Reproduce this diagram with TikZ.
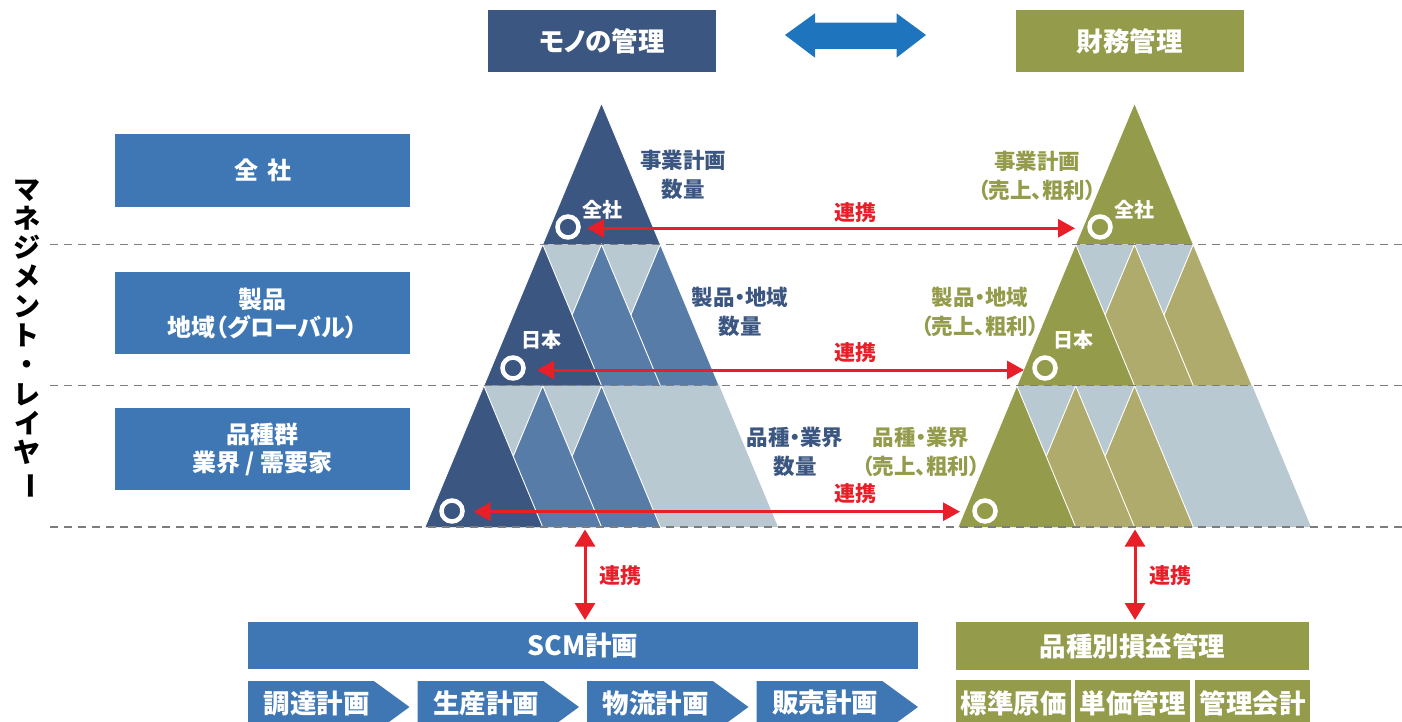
\documentclass[tikz,border=0pt]{standalone}
\usepackage{fontspec}
\usetikzlibrary{arrows.meta}
\newfontfamily\jp{Noto Sans CJK JP}[CharacterWidth=AlternateProportional]
\definecolor{navy}{RGB}{59,86,128}
\definecolor{midblue}{RGB}{88,124,168}
\definecolor{palegray}{RGB}{184,201,210}
\definecolor{boxblue}{RGB}{63,118,180}
\definecolor{olive}{RGB}{148,155,74}
\definecolor{liteolive}{RGB}{175,171,108}
\definecolor{redarr}{RGB}{232,30,40}
\definecolor{dblue}{RGB}{30,117,189}
\definecolor{dashgray}{RGB}{125,125,125}
\newcommand\fsz[2]{\fontsize{#1}{#2}\selectfont}
% mountain: apex x, apex y, colour
\newcommand\mtn[3]{%
  \fill[#3] (#1,#2) -- ++(-58.83,141.33) -- ++(117.67,0) -- cycle;
  \draw[mtnedge] (#1,#2) ++(-58.83,141.33) -- (#1,#2) -- ++(58.83,141.33);}
\newcommand\pyramid[2]{%
  \mtn{601.5}{103}{#1}
  \fill[palegray] (542.67,244.33) -- (660.33,244.33) -- (719.17,385.67) -- (483.83,385.67) -- cycle;
  \mtn{660.33}{244.33}{#2}
  \mtn{601.5}{244.33}{#2}
  \mtn{542.67}{244.33}{#1}
  \fill[palegray] (483.83,385.67) -- (719.17,385.67) -- (778,527) -- (425,527) -- cycle;
  \mtn{601.5}{385.67}{#2}
  \mtn{542.67}{385.67}{#2}
  \mtn{483.83}{385.67}{#1}}
\newcommand\chev[3]{%
  \fill[boxblue] (#1,681) -- ++(125.8,0) -- ++(35.7,26) -- ++(-35.7,26) -- ++(-125.8,0) -- cycle;
  \node[chevtxt] (#2) at ({#1+68.5},703) {#3};}
\begin{document}
\begin{tikzpicture}[x=1pt,y=-1pt,
  mtnedge/.style={draw=white,line width=0.9pt},
  hdr/.style={minimum width=228pt,minimum height=62pt,inner sep=0pt,text=white,font=\jp\bfseries\fsz{26.5}{30}},
  lbox/.style={fill=boxblue,minimum width=295pt,inner sep=0pt,text=white,align=center,font=\jp\bfseries\fsz{24}{28}},
  inlbl/.style={text=white,font=\jp\bfseries\fsz{20}{22},inner sep=0pt},
  navylbl/.style={text=navy,align=center,font=\jp\bfseries\fsz{21.5}{29}},
  olivelbl/.style={text=olive,align=center,font=\jp\bfseries\fsz{21.5}{29}},
  ring/.style={circle,draw=white,line width=4.5pt,minimum size=21pt,inner sep=0pt},
  redarrow/.style={draw=redarr,line width=3pt,{Triangle[length=17pt,width=18pt]}-{Triangle[length=17pt,width=18pt]}},
  vredarrow/.style={draw=redarr,line width=3pt,{Triangle[length=17pt,width=20pt]}-{Triangle[length=17pt,width=20pt]}},
  rlbl/.style={text=redarr,font=\jp\bfseries\fsz{21}{24},inner sep=0pt},
  dashline/.style={draw=dashgray,line width=1.3pt,dash pattern=on 8pt off 6pt},
  chevtxt/.style={text=white,font=\jp\bfseries\fsz{26.5}{30},inner sep=0pt},
  bar/.style={minimum height=47.5pt,inner sep=0pt,text=white,font=\jp\bfseries\fsz{26.5}{30}},
  obox/.style={fill=olive,minimum width=115pt,minimum height=45pt,inner sep=0pt}
]
\useasboundingbox (0,0) rectangle (1402,722);
\clip (0,0) rectangle (1402,722);

% headers
\node[hdr,fill=navy] (mono) at (602,41) {モノの管理};
\node[hdr,fill=olive] (zaimu) at (1129.5,41) {財務管理};
\fill[dblue] (785,35) -- (815,13.3) -- (815,22.7) -- (896.5,22.7) -- (896.5,13.3) -- (926,35)
  -- (896.5,57.7) -- (896.5,49) -- (815,49) -- (815,57.7) -- cycle;

% vertical title
\node[font=\jp\bfseries\fsz{27}{29.3},align=center,inner sep=0pt] (vt) at (27,339)
  {マ\\ネ\\ジ\\メ\\ン\\ト\\・\\レ\\イ\\ヤ\\\rotatebox[origin=c]{-90}{ー}};

% left boxes
\node[lbox,minimum height=72.4pt] (b1) at (262.5,170.5) {全\hspace{9pt}社};
\node[lbox,minimum height=82.6pt] (b2) at (262.5,313) {製品\\地域（グローバル）};
\node[lbox,minimum height=81.7pt] (b3) at (262.5,449) {品種群\\業界 / 需要家};

% pyramids
\pyramid{navy}{midblue}
\begin{scope}[xshift=533pt]
\pyramid{olive}{liteolive}
\end{scope}

% dashed layer lines
\draw[dashline] (50,244.3) -- (1402,244.3);
\draw[dashline] (50,385.7) -- (1402,385.7);
\draw[dashline] (50,527) -- (1402,527);

% labels inside pyramids
\node[inlbl] (zsL) at (602,210) {全社};
\node[inlbl] (jpL) at (541,339.5) {日本};
\node[inlbl] (zsR) at (1134.5,210) {全社};
\node[inlbl] (jpR) at (1073,339.5) {日本};

% rings
\node[ring] (cL1) at (568,227) {};
\node[ring] (cL2) at (513,368) {};
\node[ring] (cL3) at (452,511) {};
\node[ring] (cR1) at (1100,227) {};
\node[ring] (cR2) at (1045,368) {};
\node[ring] (cR3) at (985,511) {};

% side labels
\node[navylbl] (l1) at (683,175) {事業計画\\数量};
\node[navylbl] (l2) at (740,311.5) {製品・地域\\数量};
\node[navylbl] (l3) at (795,451.5) {品種・業界\\数量};
\node[olivelbl] (r1) at (1037,175.5) {事業計画\\（売上、粗利）};
\node[olivelbl] (r2) at (980,311.5) {製品・地域\\（売上、粗利）};
\node[olivelbl] (r3) at (921,451.5) {品種・業界\\（売上、粗利）};

% horizontal red links
\coordinate (aL1) at (587,228.3);  \coordinate (aR1) at (1075,228.3);
\coordinate (aL2) at (537,370);    \coordinate (aR2) at (1024,370);
\coordinate (aL3) at (473.5,511.7); \coordinate (aR3) at (960,511.7);
\draw[redarrow] (aL1) -- (aR1);
\draw[redarrow] (aL2) -- (aR2);
\draw[redarrow] (aL3) -- (aR3);
\node[rlbl] at (855,213) {連携};
\node[rlbl] at (855,353) {連携};
\node[rlbl] at (855,494) {連携};

% bottom bars
\node[bar,fill=boxblue,minimum width=670pt] (scm) at (583,645.5) {SCM計画};
\node[bar,fill=olive,minimum width=353pt] (hin) at (1132.5,646) {品種別損益管理};

% vertical red links
\coordinate (vL1) at (585,529.5); \coordinate (vL2) at (585,620);
\coordinate (vR1) at (1135,529.5); \coordinate (vR2) at (1135,620);
\draw[vredarrow] (vL1) -- (vL2);
\draw[vredarrow] (vR1) -- (vR2);
\node[rlbl] at (620,575.5) {連携};
\node[rlbl] at (1170,575.5) {連携};

% chevrons
\chev{248}{c1}{調達計画}
\chev{417.5}{c2}{生産計画}
\chev{587}{c3}{物流計画}
\chev{756.5}{c4}{販売計画}

% olive boxes
\node[obox,anchor=north west] (o1) at (956,680) {};
\node[obox,anchor=north west] (o2) at (1075,680) {};
\node[obox,anchor=north west] (o3) at (1195,680) {};
\node[chevtxt] at (1013.5,703) {標準原価};
\node[chevtxt] at (1132.5,703) {単価管理};
\node[chevtxt] at (1252.5,703) {管理会計};
\end{tikzpicture}
\end{document}
